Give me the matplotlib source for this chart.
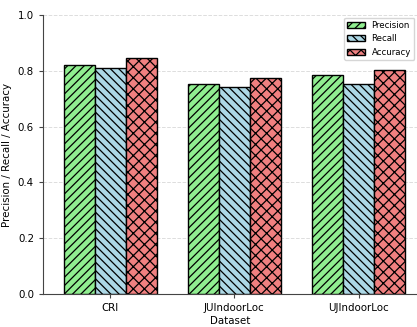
import matplotlib
matplotlib.use("Agg")
import matplotlib.pyplot as plt
import numpy as np

# values
datasets = ["CRI", "JUIndoorLoc", "UJIndoorLoc"]
precision = [0.82, 0.751, 0.785]
recall = [0.809, 0.743, 0.753]
accuracy = [0.845, 0.773, 0.804]

series = [("Precision", precision, "lightgreen", "////"),
          ("Recall", recall, "lightblue", "\\\\\\\\"),
          ("Accuracy", accuracy, "lightcoral", "xxx")]

plt.rcParams["hatch.linewidth"] = 0.9

fig = plt.figure(figsize=(4.17, 3.27), dpi=100)
ax = fig.add_axes([43 / 417, 33 / 327, 374 / 417, 279 / 327])

x = np.arange(len(datasets))
width = 0.25
for i, (name, vals, color, hatch) in enumerate(series):
    ax.bar(x + (i - 1) * width, vals, width, label=name, color=color,
           edgecolor="black", linewidth=1, hatch=hatch)

ax.set_xticks(x)
ax.set_xticklabels(datasets, fontsize=7.4)
ax.set_xlim(-0.54, 2.47)
ax.set_ylim(0, 1.0)
ax.set_yticks(np.arange(0, 1.01, 0.2))
ax.tick_params(axis="both", labelsize=7.4, length=3, color="#444444")
ax.set_xlabel("Dataset", fontsize=7.4, labelpad=2)
ax.set_ylabel("Precision / Recall / Accuracy", fontsize=7.4)
ax.yaxis.grid(True, linestyle="--", color="#dddddd", linewidth=0.7)
ax.set_axisbelow(True)
ax.spines["top"].set_visible(False)
ax.spines["right"].set_visible(False)
for s in ("left", "bottom"):
    ax.spines[s].set_color("#444444")
ax.legend(fontsize=6.2, loc="upper right", handlelength=2, borderaxespad=0.3)

fig.savefig("out.png", dpi=100)
